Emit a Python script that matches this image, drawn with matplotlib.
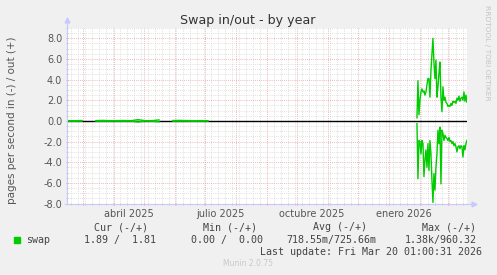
import datetime as dt
import numpy as np
import matplotlib
matplotlib.use("Agg")
import matplotlib.pyplot as plt
import matplotlib.dates as mdates
from matplotlib.ticker import MultipleLocator, FormatStrFormatter

# ---------------------------
# Daten
# ---------------------------
# Fruehe Phase: woechentliche Werte, fast null
early_start = dt.datetime(2025, 2, 14)
early_out = [0.03, 0.02, 0.04, np.nan, 0.03, 0.05, 0.02, 0.03, 0.04, 0.02, 0.12,
             0.03, 0.02, 0.10, np.nan, 0.04, 0.05, 0.03, 0.02, 0.03, 0.02]
early_in = [-0.02, -0.03, -0.02, np.nan, -0.02, -0.03, -0.02, -0.02, -0.03, -0.02, -0.10,
            -0.02, -0.03, -0.08, np.nan, -0.03, -0.02, -0.02, -0.03, -0.02, -0.02]

# Spaete Phase: taegliche Werte ab 29.01.2026
late_start = dt.datetime(2026, 1, 29)
late_out = [0.3, 3.9, 0.6, 2.0, 2.8, 3.1, 2.8, 2.9, 2.5, 2.8,
            3.5, 4.1, 4.1, 2.3, 4.9, 6.5, 8.0, 5.6, 4.1, 5.9,
            2.3, 3.3, 4.6, 5.7, 2.3, 0.9, 3.3, 2.0, 2.3, 1.8,
            1.7, 1.4, 1.5, 1.4, 1.7, 1.5, 1.9, 1.8, 1.9, 1.7,
            2.2, 2.0, 2.4, 1.9, 2.2, 2.3, 2.0, 2.8, 1.9, 2.5, 1.81]
late_in = [-0.25, -5.6, -1.9, -2.0, -3.2, -1.9, -2.2, -5.4, -3.8, -2.8,
           -4.5, -2.2, -4.8, -1.9, -3.2, -5.8, -7.9, -5.1, -6.7, -4.5,
           -3.2, -0.9, -2.2, -0.6, -6.1, -0.9, -1.2, -1.9, -1.4, -1.6,
           -1.7, -1.9, -1.6, -2.0, -1.9, -2.2, -2.0, -2.4, -2.2, -2.5,
           -3.0, -2.5, -2.4, -2.7, -2.4, -2.5, -3.5, -2.4, -2.8, -2.2, -1.89]

month_labels = ['abril 2025', 'julio 2025', 'octubre 2025', 'enero 2026']
month_label_dates = [dt.datetime(2025, 4, 16), dt.datetime(2025, 7, 16),
                     dt.datetime(2025, 10, 16), dt.datetime(2026, 1, 16)]

legend_headers = ['Cur (-/+)', 'Min (-/+)', 'Avg (-/+)', 'Max (-/+)']
legend_values = ['1.89 /  1.81', '0.00 /  0.00', '718.55m/725.66m', '1.38k/960.32']

t_end = dt.datetime(2026, 3, 20, 1, 0, 31)
t_start = t_end - dt.timedelta(days=400)

early_dates = [early_start + dt.timedelta(days=7 * i) for i in range(len(early_out))]
late_dates = [late_start + dt.timedelta(days=i) for i in range(len(late_out))]

# ---------------------------
# Diagramm
# ---------------------------
W, H = 497, 275
fig = plt.figure(figsize=(W / 100, H / 100), dpi=100)
fig.patch.set_facecolor('#F0F0F0')

def fx(px):
    return px / W

def fy(py):
    return 1 - py / H

ax = fig.add_axes([fx(67), fy(203.5), fx(400), 175.5 / H])
ax.set_facecolor('white')

green = '#00CC00'
ax.axhline(0, color='black', lw=1, zorder=3)
for d, v in [(early_dates, early_out), (early_dates, early_in),
             (late_dates, late_out), (late_dates, late_in)]:
    ax.plot(d, v, color=green, lw=1, zorder=4)

ax.set_xlim(t_start, t_end)
ax.set_ylim(-8, 9)

# Gitter
ax.xaxis.set_major_locator(mdates.MonthLocator())
ax.xaxis.set_minor_locator(mdates.WeekdayLocator(byweekday=mdates.MO))
ax.xaxis.set_major_formatter(plt.NullFormatter())
ax.yaxis.set_major_locator(MultipleLocator(2))
ax.yaxis.set_minor_locator(MultipleLocator(0.5))
ax.yaxis.set_major_formatter(FormatStrFormatter('%.1f'))

ax.grid(True, which='minor', color='#d6d6d6', lw=0.6, linestyle=(0, (1, 1.5)))
ax.grid(True, which='major', color='#eaa0a0', lw=0.6, linestyle=(0, (1, 1.5)))
ax.set_axisbelow(True)

ax.tick_params(axis='both', which='major', length=2, width=0.6, color='#e08080',
               direction='inout', labelsize=7, labelcolor='#555555', pad=2.5)
ax.tick_params(axis='both', which='minor', length=1.5, width=0.5, color='#bbbbbb',
               direction='inout')

sec = ax.secondary_xaxis('bottom')
sec.set_xticks(month_label_dates)
sec.set_xticklabels(month_labels)
sec.tick_params(length=0, labelsize=7, labelcolor='#555555', pad=4)
sec.spines['bottom'].set_visible(False)

for s in ['top', 'right', 'left', 'bottom']:
    ax.spines[s].set_visible(False)

axis_col = '#c8c8ff'
ax.plot([0, 0], [0, 1.04], transform=ax.transAxes, color=axis_col, lw=0.8, clip_on=False, zorder=5)
ax.plot([-0.005, 1.015], [0, 0], transform=ax.transAxes, color=axis_col, lw=0.8, clip_on=False, zorder=5)
ax.plot(0, 1.045, marker='^', ms=3.5, color=axis_col, transform=ax.transAxes, clip_on=False)
ax.plot(1.018, 0, marker='>', ms=3.5, color=axis_col, transform=ax.transAxes, clip_on=False)

# Texte
fig.text(fx(248), fy(24), 'Swap in/out - by year', ha='center', va='baseline',
         fontsize=9.1, color='#333333')
fig.text(fx(12), fy(120), 'pages per second in (-) / out (+)', rotation=90,
         ha='center', va='center', fontsize=7.5, color='#555555')
fig.text(fx(487), fy(5), 'RRDTOOL / TOBI OETIKER', rotation=270, ha='center', va='top',
         fontsize=5.4, color='#c4c4c4')

mono = 'DejaVu Sans Mono'
header_x = [120.5, 230, 340, 449.5]
for x, s in zip(header_x, legend_headers):
    fig.text(fx(x), fy(227.5), s, ha='center', va='center', family=mono,
             fontsize=7.2, color='#444444')

fig.patches.append(plt.Rectangle((fx(14), fy(243)), fx(6), 6 / H, color=green,
                                 transform=fig.transFigure, figure=fig))
fig.text(fx(26.5), fy(240), 'swap', ha='left', va='center', family=mono,
         fontsize=7.2, color='#444444')
value_x = [156, 263, 376, 476.5]
for x, s in zip(value_x, legend_values):
    fig.text(fx(x), fy(240), s, ha='right', va='center', family=mono,
             fontsize=7.2, color='#444444')

fig.text(fx(482.5), fy(252), 'Last update: Fri Mar 20 01:00:31 2026', ha='right',
         va='center', family=mono, fontsize=7.2, color='#444444')
fig.text(fx(248), fy(263.5), 'Munin 2.0.75', ha='center', va='center',
         fontsize=5.5, color='#c8c8c8')

fig.savefig('out.png', dpi=100, facecolor=fig.get_facecolor())
